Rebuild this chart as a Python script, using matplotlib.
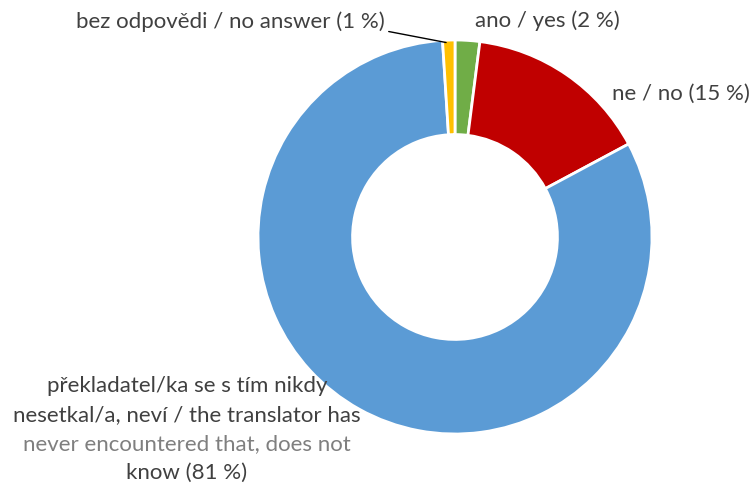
import numpy as np
import matplotlib.pyplot as plt

plt.rcParams['font.family'] = ['Lato', 'DejaVu Sans']

# survey answers, clockwise from 12 o'clock
labels = ['ano / yes (2 %)', 'ne / no (15 %)',
          'překladatel/ka se s tím nikdy nesetkal/a, neví / the translator has never encountered that, does not know (81 %)',
          'bez odpovědi / no answer (1 %)']
values = [2, 15, 81, 1]
colors = ['#70ad47', '#c00000', '#5b9bd5', '#ffc000']

W, H = 753, 486
cx, cy, R = 455, 237, 197


def px(x, y):
    # pixel position -> data coords (pie radius = 1)
    return (x - cx) / R, (cy - y) / R


fig = plt.figure(figsize=(W / 100, H / 100), dpi=100)
ax = fig.add_axes([0, 0, 1, 1])
wedges, _ = ax.pie(values, colors=colors, startangle=90, counterclock=False,
                   radius=1, wedgeprops=dict(width=0.48, edgecolor='white', linewidth=2))
ax.set_xlim(px(0, 0)[0], px(W, 0)[0])
ax.set_ylim(px(0, H)[1], px(0, 0)[1])
ax.set_aspect('auto')
ax.axis('off')

txt = '#404040'
fs = 16

ax.text(*px(547, 21), labels[0], ha='center', va='center', fontsize=fs, color=txt)
ax.text(*px(681, 94), labels[1], ha='center', va='center', fontsize=fs, color=txt)
ax.text(*px(230, 22), labels[3], ha='center', va='center', fontsize=fs, color=txt)

blue_lines = ['překladatel/ka se s tím nikdy', 'nesetkal/a, neví / the translator has',
              'never encountered that, does not', 'know (81 %)']
for i, line in enumerate(blue_lines):
    c = '#7f7f7f' if i == 2 else txt
    ax.text(*px(187, 386 + i * 29), line, ha='center', va='center', fontsize=fs, color=c)

# leader line to the small slice
w = wedges[3]
ang = np.deg2rad((w.theta1 + w.theta2) / 2)
ax.annotate('', xy=(0.985 * np.cos(ang), 0.985 * np.sin(ang)), xytext=px(386, 31),
            arrowprops=dict(arrowstyle='-', color='black', lw=1))

fig.savefig('out.png', dpi=100)
